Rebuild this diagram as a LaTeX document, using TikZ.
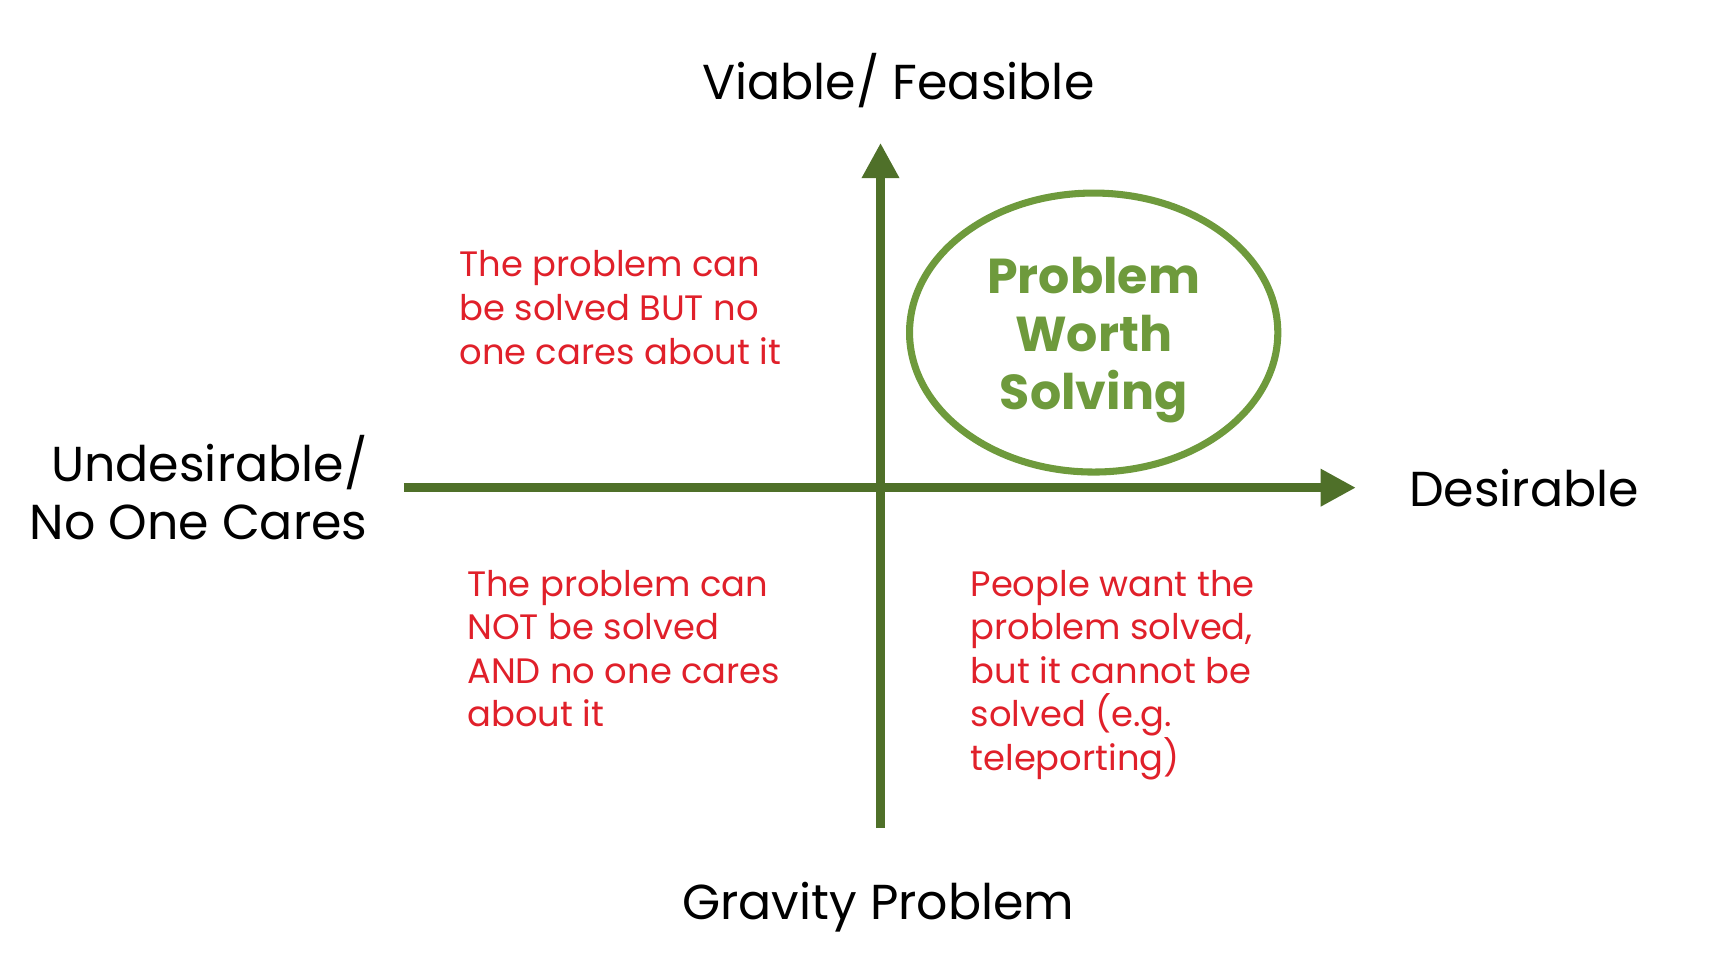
\documentclass[tikz,border=0pt]{standalone}
\usepackage{fontspec}
\setmainfont{Poppins}
\usetikzlibrary{arrows.meta}
\definecolor{axisg}{HTML}{4F7029}
\definecolor{ellg}{HTML}{6E9A3C}
\definecolor{redt}{HTML}{E0202A}
\begin{document}
\begin{tikzpicture}[x=0.01cm,y=-0.01cm,
  axis/.style={draw=axisg,line width=2.3pt,-{Triangle[length=9pt,width=9pt]}},
  quad/.style={text=redt,font=\fontsize{9}{11.1}\selectfont,align=left,anchor=north west,inner sep=0pt},
  lab/.style={font=\fontsize{12.5}{15}\selectfont,inner sep=0pt}]
\useasboundingbox (0,0) rectangle (1552,868);
\coordinate (vb) at (789,742); \coordinate (vt) at (789,128);
\coordinate (hl) at (362,437); \coordinate (hr) at (1215,437);
\draw[axis] (vb) -- (vt);
\draw[axis] (hl) -- (hr);
\draw[ellg,line width=1.8pt] (980,298) ellipse [x radius=165, y radius=125];
\node[text=ellg,font=\bfseries\fontsize{12.5}{14.8}\selectfont,align=center] (pw) at (980,305) {Problem\\Worth\\Solving};
\node[lab] (t) at (805,72) {Viable/ Feasible};
\node[lab] (b) at (787,813) {Gravity Problem};
\node[lab,anchor=west] (r) at (1262,437) {Desirable};
\node[lab,align=right,anchor=east] (l) at (330,437) {Undesirable/\\No One Cares};
\node[quad] (q1) at (411,224) {The problem can\\be solved BUT no\\one cares about it};
\node[quad] (q2) at (418,510) {The problem can\\NOT be solved\\AND no one cares\\about it};
\node[quad] (q3) at (869,510) {People want the\\problem solved,\\but it cannot be\\solved (e.g.\\teleporting)};
\end{tikzpicture}
\end{document}
